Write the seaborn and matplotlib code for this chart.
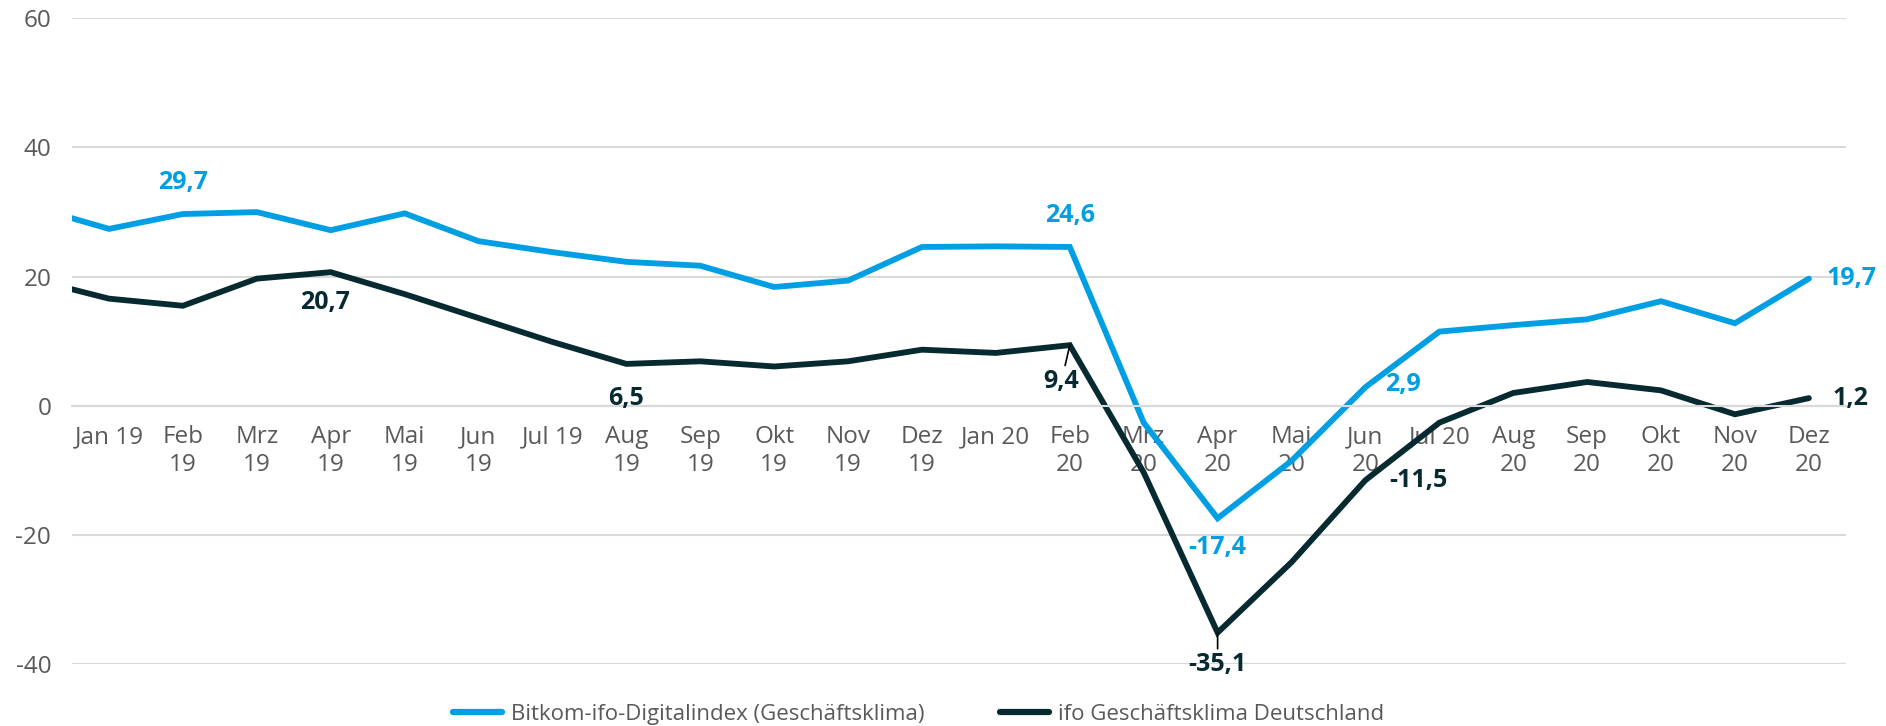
import numpy as np
import pandas as pd
import matplotlib
matplotlib.use("Agg")
import matplotlib.pyplot as plt
import seaborn as sns

# month labels; "Dez 18" only feeds the line running into the left edge
months = ["Dez 18",
          "Jan 19", "Feb\n19", "Mrz\n19", "Apr\n19", "Mai\n19", "Jun\n19",
          "Jul 19", "Aug\n19", "Sep\n19", "Okt\n19", "Nov\n19", "Dez\n19",
          "Jan 20", "Feb\n20", "Mrz\n20", "Apr\n20", "Mai\n20", "Jun\n20",
          "Jul 20", "Aug\n20", "Sep\n20", "Okt\n20", "Nov\n20", "Dez\n20"]

bitkom = [30.7, 27.4, 29.7, 30.0, 27.2, 29.8, 25.5, 23.8, 22.3, 21.7, 18.4, 19.4,
          24.6, 24.7, 24.6, -2.6, -17.4, -8.5, 2.9, 11.5, 12.5, 13.4, 16.2, 12.8, 19.7]
ifo = [19.5, 16.6, 15.5, 19.7, 20.7, 17.3, 13.6, 9.9, 6.5, 6.9, 6.1, 6.9,
       8.7, 8.2, 9.4, -10.3, -35.1, -24.2, -11.5, -2.6, 2.0, 3.7, 2.4, -1.3, 1.2]

series_names = ["Bitkom-ifo-Digitalindex (Geschäftsklima)",
                "ifo Geschäftsklima Deutschland"]
colors = {series_names[0]: "#009FE3", series_names[1]: "#062A30"}

# (series, month index, offset in points, leader line)
labels = [
    (0, 2, (0, 23), False),
    (0, 14, (0, 23), False),
    (0, 16, (0, -21), False),
    (0, 18, (27, 2), False),
    (0, 24, (31, 0), False),
    (1, 4, (-4, -22), False),
    (1, 8, (0, -25), False),
    (1, 14, (-6, -26), True),
    (1, 16, (0, -23), True),
    (1, 18, (38, 0), False),
    (1, 24, (30, 0), False),
]

x_pos = np.arange(len(months)) - 1
df = pd.DataFrame({
    "x": np.concatenate([x_pos, x_pos]),
    "value": bitkom + ifo,
    "series": [series_names[0]] * len(months) + [series_names[1]] * len(months),
})

sns.set_style("white")
plt.rcParams['font.family'] = ['Open Sans', 'DejaVu Sans']
plt.rcParams['axes.unicode_minus'] = False

fig, ax = plt.subplots(figsize=(18.86, 7.26), dpi=100)
fig.subplots_adjust(left=0.0382, right=0.9787, top=0.9748, bottom=0.085)

sns.lineplot(data=df, x="x", y="value", hue="series", hue_order=series_names,
             palette=colors, linewidth=4.2, ax=ax, legend=False,
             solid_joinstyle="miter")

ax.set_xlim(-0.5, 23.5)
ax.set_ylim(-40, 60)
ax.set_yticks([-40, -20, 0, 20, 40, 60])
ax.set_xticks(range(24))
ax.set_xticklabels(months[1:], linespacing=1.4)
ax.set_xticks(np.arange(-0.5, 24, 1), minor=True)
ax.set_xlabel("")
ax.set_ylabel("")

ax.yaxis.grid(True, color="#D9D9D9", linewidth=1.5)
ax.set_axisbelow(True)
for s in ["top", "right", "left"]:
    ax.spines[s].set_visible(False)
ax.spines["bottom"].set_position(("data", 0))
ax.spines["bottom"].set_color("#D9D9D9")
ax.spines["bottom"].set_linewidth(1.5)

ax.tick_params(axis="x", which="major", length=0, pad=14, labelsize=17.5,
               labelcolor="#595959")
ax.tick_params(axis="x", which="minor", length=5, width=1.5, color="#D9D9D9",
               direction="out")
ax.tick_params(axis="y", length=0, pad=15, labelsize=17.5, labelcolor="#595959")

values = [bitkom, ifo]
for si, mi, off, leader in labels:
    v = values[si][mi]
    txt = f"{v:.1f}".replace(".", ",")
    arrow = dict(arrowstyle="-", color="black", lw=1.2, shrinkA=0, shrinkB=0) if leader else None
    ax.annotate(txt, xy=(x_pos[mi], v), xytext=off, textcoords="offset points",
                ha="center", va="center", fontsize=18, fontweight="bold",
                color=colors[series_names[si]], annotation_clip=False,
                arrowprops=arrow)

handles = [plt.Line2D([0], [0], color=colors[n], linewidth=4.5, solid_capstyle="round")
           for n in series_names]
fig.legend(handles, series_names, loc="center", bbox_to_anchor=(0.487, 0.016),
           ncol=2, frameon=False, fontsize=16, handlelength=2.2,
           handletextpad=0.4, columnspacing=3.4, labelcolor="#595959")

fig.savefig("out.png", dpi=100)
